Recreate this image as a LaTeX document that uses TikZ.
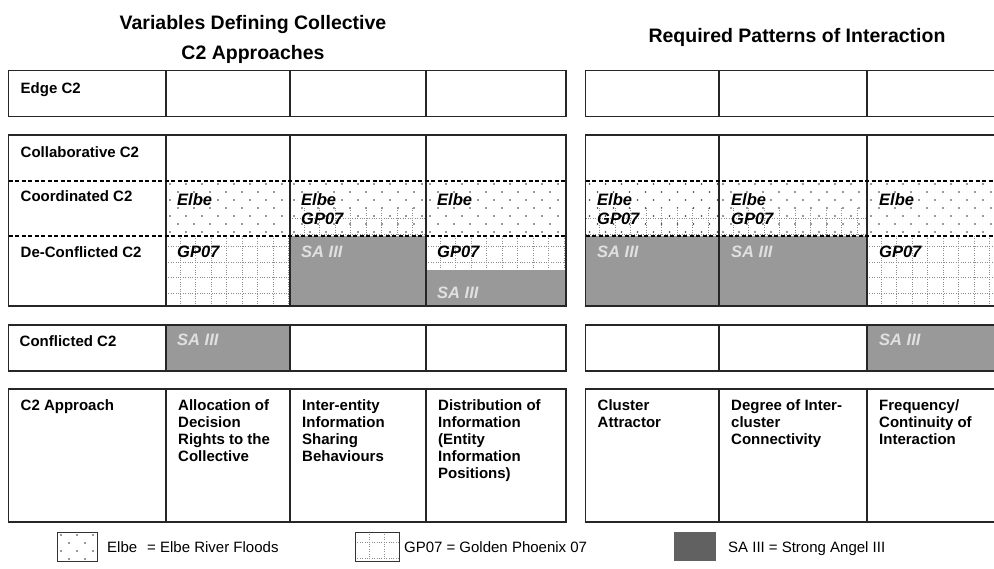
\documentclass[tikz,border=0pt]{standalone}
\usepackage{fontspec}
\setmainfont{Liberation Sans}
\usetikzlibrary{positioning}

\newcommand{\elbefill}[4]{%
  \begin{scope}
    \clip (#1,#2) rectangle (#3,#4);
    \foreach \rr in {0,...,10} {
      \pgfmathsetmacro{\xoff}{mod(\rr,2)*8}
      \foreach \cc in {0,...,9}
        \fill[black!80] (#1+4+\xoff+\cc*16,#2+3+\rr*8) circle (0.9);
    }
  \end{scope}}
\newcommand{\gpfill}[4]{%
  \begin{scope}
    \clip (#1,#2) rectangle (#3,#4);
    \foreach \kk in {0,...,10} {
      \draw[gpline] (#1+14+\kk*15.5,#2) -- (#1+14+\kk*15.5,#4);
      \draw[gpline] (#1,#2+10.5+\kk*15.5) -- (#3,#2+10.5+\kk*15.5);
    }
  \end{scope}}
\newcommand{\safill}[4]{\fill[black!40] (#1,#2) rectangle (#3,#4);}

\begin{document}
\begin{tikzpicture}[%
    x=1pt,
    y=-1pt,
    cell/.style={draw=black!85, line width=1.2pt},
    sepline/.style={draw=black, line width=1.2pt, dash pattern=on 4pt off 2.5pt},
    gpline/.style={black!45, line width=0.8pt, dash pattern=on 0.8pt off 1.6pt},
    rowlab/.style={%
      anchor=north west,
      inner sep=0pt,
      align=left,
      font=\fontsize{15}{17}\selectfont\bfseries
    },
    lab/.style={%
      anchor=north west,
      inner sep=0pt,
      align=left,
      font=\fontsize{16.5}{19}\selectfont\bfseries\itshape
    },
    salab/.style={lab, text=white!88!black},
    ttl/.style={align=center, font=\fontsize{19.5}{30}\selectfont\bfseries},
    leg/.style={anchor=base west, inner sep=0pt, font=\fontsize{15}{17}\selectfont}
  ]
    \useasboundingbox (0,0) rectangle (994,569);
    \clip (0,0) rectangle (994,569);

    \node[ttl] (ttlleft) at (253,39) {Variables Defining Collective\\C2 Approaches};
    \node[ttl] (ttlright) at (797,37) {Required Patterns of Interaction};

    \elbefill{166}{181}{290}{236}
    \elbefill{290}{181}{426}{236}
    \gpfill{290}{208}{426}{236}
    \elbefill{426}{181}{566}{236}
    \gpfill{166}{236}{290}{306}
    \safill{290}{236}{426}{306}
    \gpfill{426}{236}{566}{270}
    \safill{426}{270}{566}{306}
    \safill{166}{325}{290}{371}

    \elbefill{585.5}{181}{719}{236}
    \gpfill{585.5}{208}{719}{236}
    \elbefill{719}{181}{867}{236}
    \gpfill{719}{208}{867}{236}
    \elbefill{867}{181}{1005}{236}
    \safill{585.5}{236}{719}{306}
    \safill{719}{236}{867}{306}
    \gpfill{867}{236}{1005}{306}
    \safill{867}{325}{1005}{371}

    \foreach \ya/\yb in {70.5/116.5, 135/306, 325/371, 389/522} {
      \draw[cell] (8.5,\ya) rectangle (566,\yb);
      \draw[cell] (585.5,\ya) rectangle (1005,\yb);
      \foreach \xx in {166,290,426,719,867}
        \draw[cell] (\xx,\ya) -- (\xx,\yb);
    }
    \foreach \ya in {181,236} {
      \draw[sepline] (8.5,\ya) -- (566,\ya);
      \draw[sepline] (585.5,\ya) -- (1005,\ya);
    }

    \node[rowlab] (edge) at (20.5,82) {Edge C2};
    \node[rowlab] (collab) at (20.5,146) {Collaborative C2};
    \node[rowlab] (coord) at (20.5,190) {Coordinated C2};
    \node[rowlab] (deconf) at (20.5,246) {De-Conflicted C2};
    \node[rowlab] (conf) at (19.5,335) {Conflicted C2};
    \node[rowlab] (appr) at (20.5,399) {C2 Approach};
    \node[rowlab] (alloc) at (178,399) {Allocation of\\Decision\\Rights to the\\Collective};
    \node[rowlab] (share) at (302,399) {Inter-entity\\Information\\Sharing\\Behaviours};
    \node[rowlab] (distr) at (438,399) {Distribution of\\Information\\(Entity\\Information\\Positions)};
    \node[rowlab] (attr) at (597.5,399) {Cluster\\Attractor};
    \node[rowlab] (conn) at (731,399) {Degree of Inter-\\cluster\\Connectivity};
    \node[rowlab] (freq) at (879,399) {Frequency/\\Continuity of\\Interaction};

    \node[lab] (coordb) at (177,193) {Elbe};
    \node[lab] (coordc) at (301,193) {Elbe\\GP07};
    \node[lab] (coordd) at (437,193) {Elbe};
    \node[lab] (deconfb) at (177,246) {GP07};
    \node[salab] (deconfc) at (301,246) {SA III};
    \node[lab] (deconfd) at (437,246) {GP07};
    \node[salab] (deconfe) at (437,287) {SA III};
    \node[salab] (confb) at (177,334) {SA III};
    \node[lab] (coordf) at (597,193) {Elbe\\GP07};
    \node[lab] (coordg) at (731,193) {Elbe\\GP07};
    \node[lab] (coordh) at (879,193) {Elbe};
    \node[salab] (deconff) at (597,246) {SA III};
    \node[salab] (deconfg) at (731,246) {SA III};
    \node[lab] (deconfh) at (879,246) {GP07};
    \node[salab] (confh) at (879,334) {SA III};

    \elbefill{57}{532}{97}{561}
    \draw[black!80, line width=0.6pt] (57,532) rectangle (97,561);
    \gpfill{355}{532}{399}{561}
    \draw[black!80, line width=0.6pt] (355,532) rectangle (399,561);
    \fill[black!62] (674,532) rectangle (716,561);
    \node[leg] (legelbe) at (107,552.5) {Elbe\hspace{10pt}= Elbe River Floods};
    \node[leg] (leggp) at (404,552.5) {GP07\hspace{4pt}= Golden Phoenix 07};
    \node[leg] (legsa) at (728,552.5) {SA III\hspace{4pt}= Strong Angel III};
\end{tikzpicture}
\end{document}
